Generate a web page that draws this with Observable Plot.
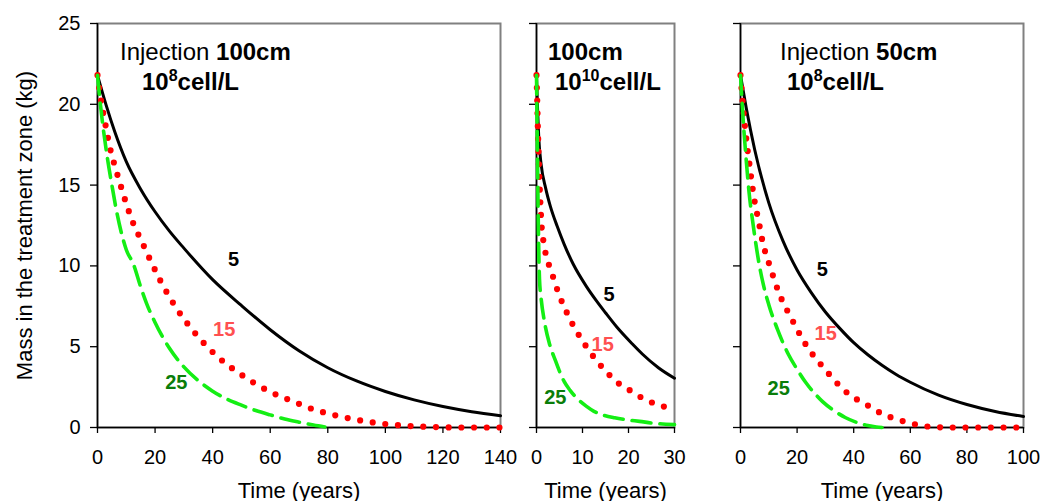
<!DOCTYPE html>
<html>
<head>
<meta charset="utf-8">
<script src="https://cdn.jsdelivr.net/npm/d3@7"></script>
<script src="https://cdn.jsdelivr.net/npm/@observablehq/plot@0.6"></script>
<style>
  body { margin: 0; background: #fff; }
  #chart { position: relative; width: 1045px; height: 501px; overflow: hidden; font-family: "Liberation Sans", Arial, sans-serif; }
  #chart svg { position: absolute; top: 0; }
</style>
</head>
<body>
<div id="chart"></div>
<script>
// ---------- ticks ----------
const yTicks = [0, 5, 10, 15, 20, 25];
const p1XTicks = [0, 20, 40, 60, 80, 100, 120, 140];
const p2XTicks = [0, 10, 20, 30];
const p3XTicks = [0, 20, 40, 60, 80, 100];

// ---------- Panel 1: Injection 100cm, 10^8 cell/L ----------
const p1Time5  = [0, 3, 6, 10, 15, 20, 25, 30, 40, 50, 60, 70, 80, 90, 100, 110, 120, 130, 140];
const p1Mass5  = [21.8, 19.95, 18.3, 16.45, 14.75, 13.35, 12.15, 11.1, 9.15, 7.55, 6.05, 4.75, 3.7, 2.88, 2.23, 1.71, 1.3, 0.98, 0.73];
const p1Time15 = [0, 1, 2.8, 4.6, 6, 8, 10, 12.5, 15.4, 18.5, 21.8, 27, 33.6, 41.8, 50.7, 59.5, 68.3, 72.8, 81.6, 90.3, 99.1, 107.9, 116.7, 125, 140];
const p1Mass15 = [21.8, 20.5, 18.7, 17.1, 16.2, 15.0, 13.85, 12.6, 11.5, 10.3, 9.1, 7.5, 5.9, 4.37, 3.18, 2.25, 1.59, 1.26, 0.8, 0.47, 0.23, 0.1, 0.03, 0, 0];
const p1Time25 = [0, 1, 2, 3.5, 5, 6.5, 8.5, 10, 12.5, 15, 17, 20, 25, 30, 35, 40, 45, 50, 55, 60, 65, 70, 75, 79];
const p1Mass25 = [21.8, 20.0, 18.5, 16.6, 15.0, 13.5, 11.9, 11.0, 10.1, 8.7, 7.7, 6.5, 4.9, 3.75, 2.9, 2.25, 1.75, 1.38, 1.05, 0.78, 0.53, 0.33, 0.15, 0.03];

// ---------- Panel 2: 100cm, 10^10 cell/L ----------
const p2Time5  = [0, 0.25, 0.5, 1, 2, 3, 4.5, 6, 8, 10.8, 13, 15, 17.5, 20.8, 23, 26.5, 30];
const p2Mass5  = [21.8, 19.6, 17.9, 16.3, 14.8, 13.7, 12.45, 11.35, 10.1, 8.75, 7.85, 7.1, 6.2, 5.18, 4.55, 3.7, 3.05];
const p2Time15 = [0, 0.15, 0.3, 0.5, 0.75, 1.15, 1.6, 2.1, 3, 4.8, 7.2, 10.6, 15, 18, 20.6, 23.2, 26, 28.8, 30];
const p2Mass15 = [21.8, 20.3, 18.5, 16.5, 14.5, 12.3, 11.4, 10.6, 9.85, 8.3, 6.75, 5.1, 3.5, 2.7, 2.25, 1.79, 1.45, 1.2, 1.1];
const p2Time25 = [0, 0.2, 0.4, 0.65, 1, 1.7, 2.8, 4.1, 4.9, 6, 7.3, 9, 10.8, 12.5, 14.6, 17, 19.8, 22.4, 25.6, 30];
const p2Mass25 = [21.8, 17.0, 12.5, 9.2, 8.0, 6.6, 5.2, 4.15, 3.55, 2.85, 2.3, 1.75, 1.32, 1.0, 0.76, 0.6, 0.47, 0.38, 0.26, 0.18];

// ---------- Panel 3: Injection 50cm, 10^8 cell/L ----------
const p3Time5  = [0, 2, 5, 10, 15, 20, 25, 30, 35, 40, 45, 50, 55, 60, 70, 80, 90, 100];
const p3Mass5  = [21.8, 19.8, 17.2, 13.9, 11.55, 9.75, 8.35, 7.15, 6.15, 5.25, 4.5, 3.85, 3.28, 2.8, 2.0, 1.42, 0.99, 0.68];
const p3Time15 = [0, 0.5, 1.2, 2, 3, 4.7, 6.6, 7.8, 10.6, 13.7, 18, 23, 30, 37, 46, 50, 55, 60, 64, 68, 75, 100];
const p3Mass15 = [21.8, 20.7, 19.3, 17.9, 16.5, 14.3, 12.6, 11.5, 9.87, 8.28, 6.75, 5.15, 3.57, 2.25, 1.26, 0.85, 0.52, 0.27, 0.12, 0.03, 0, 0];
const p3Time25 = [0, 0.5, 1, 2, 3, 4.5, 6.5, 8, 10, 13, 17, 20, 23, 26, 29, 33, 37, 41, 45, 48, 50];
const p3Mass25 = [21.8, 20.3, 18.9, 16.6, 14.6, 12.5, 10.2, 8.9, 7.6, 6.1, 4.5, 3.6, 2.8, 2.15, 1.6, 1.05, 0.62, 0.32, 0.12, 0.03, 0];

// ---------- curve labels (rate) ----------
const rateLabels = ["5", "15", "25"];
const p1LabelTime = [47.3, 44.0, 27.4];
const p1LabelMass = [10.4, 6.05, 2.8];
const p2LabelTime = [15.8, 14.4, 4.1];
const p2LabelMass = [8.23, 5.14, 1.86];
const p3LabelTime = [28.9, 30.1, 13.5];
const p3LabelMass = [9.78, 5.82, 2.41];

// ---------- annotation text ----------
const annPrefix = ["Injection ", "", "Injection "];
const annDepth = ["100cm", "100cm", "50cm"];
const annExponent = ["8", "10", "8"];

const xTitle = "Time (years)";
const yTitle = "Mass in the treatment zone (kg)";

// ---------- styling ----------
const labelColors = ["#000000", "#ff5050", "#0a7d0a"];
const FONT = "'Liberation Sans', Arial, Helvetica, sans-serif";

function rows(t, m) { return t.map((x, i) => ({t: x, m: m[i]})); }

const panels = [
  {left: 0, width: 515, mL: 97, mR: 15, xMax: 140, xTicks: p1XTicks, yLabels: true,
   t5: p1Time5, m5: p1Mass5, t15: p1Time15, m15: p1Mass15, t25: p1Time25, m25: p1Mass25,
   lt: p1LabelTime, lm: p1LabelMass, a1: 23, a2: 45},
  {left: 515, width: 185, mL: 21, mR: 26, xMax: 30, xTicks: p2XTicks, yLabels: false,
   t5: p2Time5, m5: p2Mass5, t15: p2Time15, m15: p2Mass15, t25: p2Time25, m25: p2Mass25,
   lt: p2LabelTime, lm: p2LabelMass, a1: 12, a2: 19},
  {left: 700, width: 345, mL: 40, mR: 22, xMax: 100, xTicks: p3XTicks, yLabels: false,
   t5: p3Time5, m5: p3Mass5, t15: p3Time15, m15: p3Mass15, t25: p3Time25, m25: p3Mass25,
   lt: p3LabelTime, lm: p3LabelMass, a1: 40, a2: 47}
];

const MT = 23, MB = 74, H = 501;
const chart = document.getElementById("chart");

panels.forEach((cfg, pi) => {
  const marks = [
    Plot.frame({stroke: "#808080", strokeWidth: 2}),
    Plot.axisY({ticks: yTicks, tickSize: 7, tickPadding: 10, label: null,
                tickFormat: cfg.yLabels ? (d => String(d)) : (() => ""), strokeWidth: 1.3}),
    Plot.axisX({ticks: cfg.xTicks, tickSize: 6, tickPadding: 16, label: null,
                tickFormat: d => String(d), strokeWidth: 1.3}),
    Plot.ruleX([0], {stroke: "#000", strokeWidth: 1.5}),
    Plot.ruleY([0], {stroke: "#000", strokeWidth: 1.5}),
    Plot.line(rows(cfg.t5, cfg.m5), {x: "t", y: "m", stroke: "#000", strokeWidth: 3, curve: "monotone-x"}),
    Plot.line(rows(cfg.t15, cfg.m15), {x: "t", y: "m", stroke: "#ff0000", strokeWidth: 6.2,
              strokeDasharray: "0,12.7", strokeLinecap: "round", curve: "monotone-x"}),
    Plot.line(rows(cfg.t25, cfg.m25), {x: "t", y: "m", stroke: "#14ee14", strokeWidth: 3.6,
              strokeDasharray: "19,9", curve: "monotone-x"}),
    Plot.text([xTitle], {text: d => d, frameAnchor: "bottom", textAnchor: "middle", dy: 70,
                         lineAnchor: "bottom", fontSize: 22})
  ];
  rateLabels.forEach((s, i) => {
    marks.push(Plot.text([{s, t: cfg.lt[i], m: cfg.lm[i]}],
      {x: "t", y: "m", text: "s", fill: labelColors[i], fontWeight: "bold", fontSize: 20}));
  });
  if (cfg.yLabels) {
    marks.push(Plot.text([yTitle], {text: d => d, frameAnchor: "left", textAnchor: "middle", dx: -66, rotate: -90,
                                    lineAnchor: "bottom", fontSize: 22}));
  }
  const svg = Plot.plot({
    width: cfg.width,
    height: H,
    marginLeft: cfg.mL,
    marginRight: cfg.mR,
    marginTop: MT,
    marginBottom: MB,
    x: {domain: [0, cfg.xMax]},
    y: {domain: [0, 25]},
    style: {fontFamily: FONT, fontSize: "20px", background: "transparent", overflow: "visible", color: "#000"},
    marks
  });
  svg.style.left = cfg.left + "px";

  const g = d3.select(svg);
  const t1 = g.append("text")
    .attr("x", cfg.mL + cfg.a1).attr("y", MT + 37)
    .attr("text-anchor", "start")
    .attr("font-size", 24).attr("font-family", FONT).attr("fill", "#000")
    .style("white-space", "pre");
  if (annPrefix[pi]) t1.append("tspan").text(annPrefix[pi]);
  t1.append("tspan").attr("font-weight", "bold").text(annDepth[pi]);

  const t2 = g.append("text")
    .attr("x", cfg.mL + cfg.a2).attr("y", MT + 67)
    .attr("text-anchor", "start")
    .attr("font-size", 24).attr("font-family", FONT).attr("font-weight", "bold").attr("fill", "#000");
  t2.append("tspan").text("10");
  t2.append("tspan").attr("font-size", 16).attr("dy", -9).text(annExponent[pi]);
  t2.append("tspan").attr("dy", 9).text("cell/L");

  chart.appendChild(svg);
});
</script>
</body>
</html>
